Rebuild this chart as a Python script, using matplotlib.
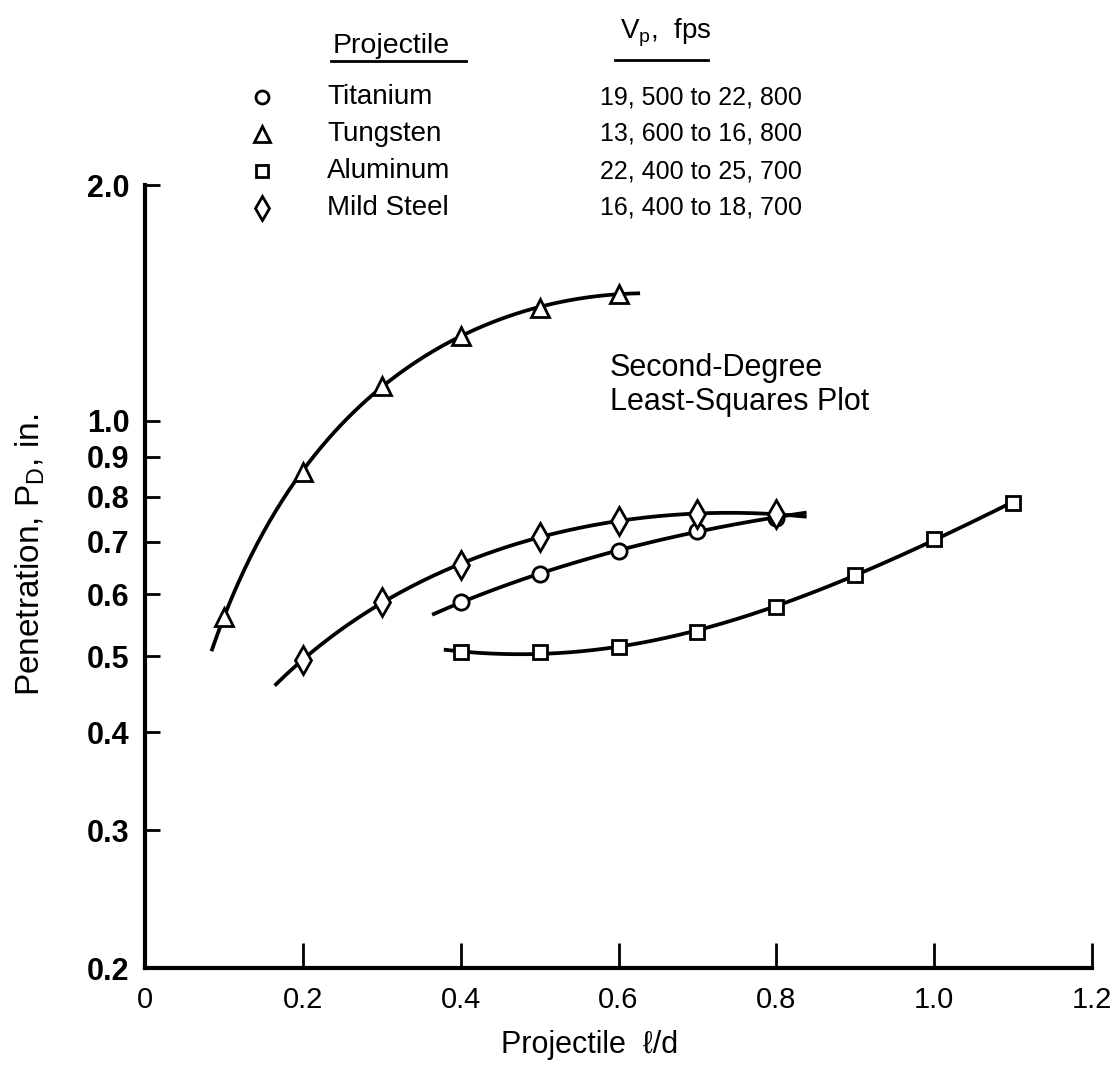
import numpy as np
import matplotlib.pyplot as plt
from matplotlib.lines import Line2D

plt.rcParams['font.family'] = ['Liberation Sans', 'DejaVu Sans']
plt.rcParams['mathtext.default'] = 'regular'

# values (l/d, penetration in.)
ld_titanium = [0.4, 0.5, 0.6, 0.7, 0.8]
pen_titanium = [0.586, 0.638, 0.681, 0.724, 0.752]
ld_tungsten = [0.1, 0.2, 0.3, 0.4, 0.5, 0.6]
pen_tungsten = [0.562, 0.861, 1.106, 1.284, 1.394, 1.452]
ld_aluminum = [0.4, 0.5, 0.6, 0.7, 0.8, 0.9, 1.0, 1.1]
pen_aluminum = [0.506, 0.507, 0.514, 0.538, 0.579, 0.635, 0.707, 0.786]
ld_steel = [0.2, 0.3, 0.4, 0.5, 0.6, 0.7, 0.8]
pen_steel = [0.495, 0.586, 0.655, 0.711, 0.745, 0.760, 0.760]

# x span of each fitted curve
span_titanium = [0.366, 0.836]
span_tungsten = [0.085, 0.625]
span_aluminum = [0.381, 1.10]
span_steel = [0.166, 0.836]

names = ['Titanium', 'Tungsten', 'Aluminum', 'Mild Steel']
speeds = ['19, 500 to 22, 800', '13, 600 to 16, 800',
          '22, 400 to 25, 700', '16, 400 to 18, 700']
y_ticks = [0.2, 0.3, 0.4, 0.5, 0.6, 0.7, 0.8, 0.9, 1.0, 2.0]
y_labels = ['0.2', '0.3', '0.4', '0.5', '0.6', '0.7', '0.8', '0.9', '1.0', '2.0']
x_ticks = [0, 0.2, 0.4, 0.6, 0.8, 1.0, 1.2]
x_labels = ['0', '0.2', '0.4', '0.6', '0.8', '1.0', '1.2']

series = [
    (ld_titanium, pen_titanium, span_titanium, 'o', 11),
    (ld_tungsten, pen_tungsten, span_tungsten, '^', 13),
    (ld_aluminum, pen_aluminum, span_aluminum, 's', 10),
    (ld_steel, pen_steel, span_steel, 'd', 14),
]

W, H = 1113, 1071


def fx(x):
    return x / W


def fy(y):
    return 1 - y / H


fig = plt.figure(figsize=(W / 100, H / 100), dpi=100)
ax = fig.add_axes([fx(145), fy(968), fx(1092 - 145), (968 - 185) / H])

for ld, pen, span, mk, ms in series:
    coef = np.polyfit(ld, pen, 2)
    xs = np.linspace(span[0], span[1], 200)
    ax.plot(xs, np.polyval(coef, xs), color='black', lw=2.7, zorder=2)
    ax.plot(ld, pen, linestyle='none', marker=mk, ms=ms, mfc='white',
            mec='black', mew=2.0, zorder=3)

ax.set_yscale('log')
ax.set_xlim(0, 1.2)
ax.set_ylim(0.2, 2.0)
ax.minorticks_off()
ax.set_yticks(y_ticks)
ax.set_yticklabels(y_labels, fontweight='bold')
ax.set_xticks(x_ticks)
ax.set_xticklabels(x_labels)
ax.tick_params(axis='y', direction='in', length=11, width=2, pad=11, labelsize=22)
ax.tick_params(axis='x', direction='in', length=18, width=2, pad=13, labelsize=21)
for s in ['top', 'right']:
    ax.spines[s].set_visible(False)
for s in ['left', 'bottom']:
    ax.spines[s].set_linewidth(3)

fig.text(fx(610), fy(385), 'Second-Degree\nLeast-Squares Plot', fontsize=22,
         ha='left', va='center', linespacing=1.2)

fig.text(fx(30), fy(555), 'Penetration, P$_D$, in.', rotation=90,
         ha='center', va='center', fontsize=24)
fig.text(fx(590), fy(1045), 'Projectile  \u2113/d',
         ha='center', va='center', fontsize=22)

# legend table
fig.text(fx(333), fy(46), 'Projectile', fontsize=20.5, ha='left', va='center')
fig.add_artist(Line2D([fx(331), fx(466)], [fy(61), fy(61)], color='black', lw=2))
fig.text(fx(620), fy(33), 'V$_p$,  fps', fontsize=20, ha='left', va='center')
fig.add_artist(Line2D([fx(615), fx(708)], [fy(60), fy(60)], color='black', lw=2))
rows = [97, 134, 171, 208]
for (ld, pen, span, mk, ms), name, spd, ry in zip(series, names, speeds, rows):
    fig.add_artist(Line2D([fx(262)], [fy(ry)], marker=mk, ms=ms * 0.85,
                          mfc='white', mec='black', mew=2.0, linestyle='none'))
    fig.text(fx(327), fy(ry), name, fontsize=20, ha='left', va='center')
    fig.text(fx(600), fy(ry), spd, fontsize=18, ha='left', va='center')

fig.savefig('out.png', dpi=100, facecolor='white')
